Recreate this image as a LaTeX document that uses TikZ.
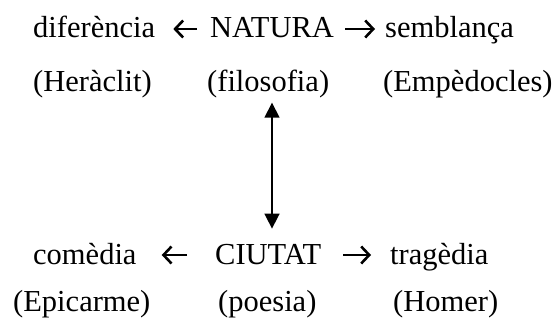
\documentclass[tikz,border=0pt]{standalone}
\usepackage{fontspec}
\setmainfont{Liberation Serif}
\usetikzlibrary{arrows.meta,calc}
\tikzset{
  word/.style={inner sep=0pt, anchor=base west, font=\fontsize{30.5}{36}\selectfont},
  harr/.style={line width=2.6pt, -{Straight Barb[length=8pt,width=17pt,line width=2.6pt]}},
  varr/.style={line width=1.6pt, {Triangle[width=15pt,length=15pt]}-{Triangle[width=15pt,length=15pt]}}
}
\begin{document}
\begin{tikzpicture}[x=1pt,y=-1pt]
\useasboundingbox (0,0) rectangle (554,324);
% row 1
\node[word] (dif) at (33,37) {diferència};
\node[word] (nat) at (210,37) {NATURA};
\node[word] (sem) at (385,37) {semblança};
% row 2
\node[word] (her) at (33,91) {(Heràclit)};
\node[word] (fil) at (207,91) {(filosofia)};
\node[word] (emp) at (383,91) {(Empèdocles)};
% row 3
\node[word] (com) at (33,264) {comèdia};
\node[word] (ciu) at (215,264) {CIUTAT};
\node[word] (tra) at (390,264) {tragèdia};
% row 4
\node[word] (epi) at (13,311) {(Epicarme)};
\node[word] (poe) at (218,311) {(poesia)};
\node[word] (hom) at (393,311) {(Homer)};
% horizontal arrows
\draw[harr] ($(nat.base west)+(-13,-8)$) -- ($(dif.base east)+(18,-8)$);
\draw[harr] ($(nat.base east)+(11,-8)$) -- ($(sem.base west)+(-10,-8)$);
\draw[harr] ($(ciu.base west)+(-28,-9)$) -- ($(com.base east)+(25,-9)$);
\draw[harr] ($(ciu.base east)+(22,-9)$) -- ($(tra.base west)+(-19,-9)$);
% vertical arrow
\coordinate (vx) at (272,0);
\draw[varr] ($(fil.south -| vx)+(0,5)$) -- ($(ciu.north -| vx)+(0,-15)$);
\end{tikzpicture}
\end{document}
